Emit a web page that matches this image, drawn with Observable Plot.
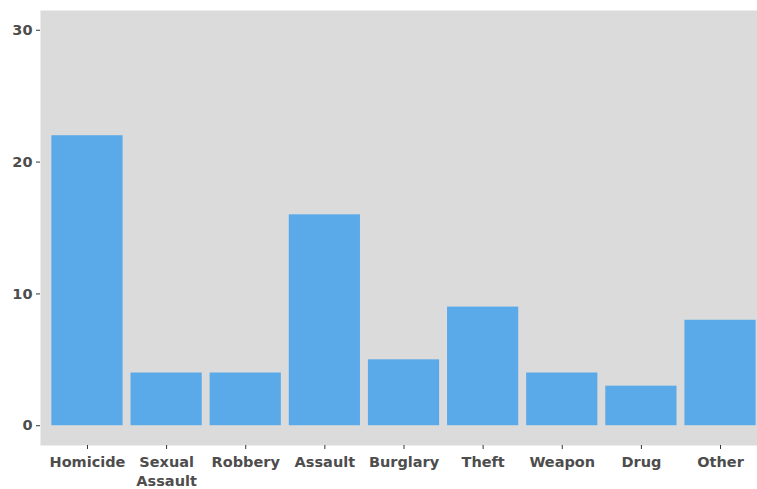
<!DOCTYPE html>
<html>
<head>
<meta charset="utf-8">
<script src="https://cdn.jsdelivr.net/npm/d3@7"></script>
<script src="https://cdn.jsdelivr.net/npm/@observablehq/plot@0.6"></script>
<style>
  html, body { margin: 0; padding: 0; background: #fff; }
  #chart svg { display: block; }
</style>
</head>
<body>
<div id="chart"></div>
<script>
const categories = ["Homicide", "Sexual Assault", "Robbery", "Assault", "Burglary", "Theft", "Weapon", "Drug", "Other"];
const values = [22, 4, 4, 16, 5, 9, 4, 3, 8];
const tickLabels = ["Homicide", "Sexual\nAssault", "Robbery", "Assault", "Burglary", "Theft", "Weapon", "Drug", "Other"];
const yTicks = [0, 10, 20, 30];

const data = categories.map((c, i) => ({category: c, value: values[i]}));
const labelOf = new Map(categories.map((c, i) => [c, tickLabels[i]]));

const chart = Plot.plot({
  width: 757,
  height: 489,
  marginLeft: 40,
  marginRight: 0,
  marginTop: 10,
  marginBottom: 44,
  style: {fontFamily: "DejaVu Sans", fontSize: "14.5px", background: "#fff"},
  x: {domain: categories, range: [39.5, 767.5], paddingInner: 0.1, paddingOuter: 0.15, align: 0.5, round: false, label: null},
  y: {domain: [-1.5, 31.5], label: null},
  marks: [
    Plot.frame({fill: "#dbdbdb", stroke: null}),
    Plot.barY(data, {x: "category", y1: 0, y2: "value", fill: "#5aaaea"}),
    Plot.axisY({ticks: yTicks, tickSize: 4, tickPadding: 4, label: null, stroke: "#333", fill: "#4d4d4d", fontWeight: "bold", fontSize: 14.5}),
    Plot.axisX({tickSize: 4, tickPadding: 4, label: null, stroke: "#333", fill: "#4d4d4d", fontWeight: "bold", fontSize: 14.5, lineHeight: 1.3, tickFormat: d => labelOf.get(d)})
  ]
});
document.getElementById("chart").appendChild(chart);
</script>
</body>
</html>
